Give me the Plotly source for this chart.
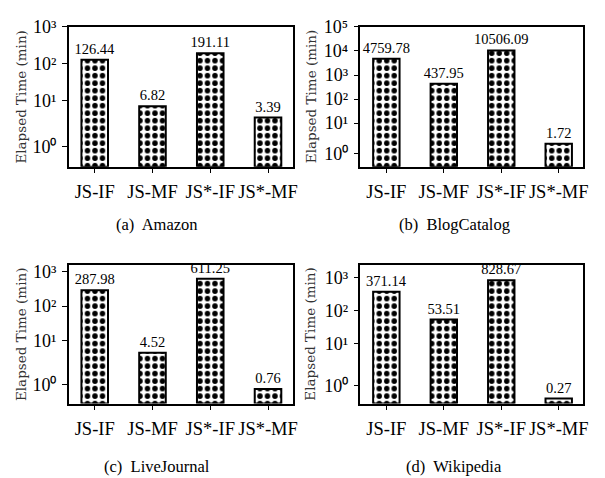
import numpy as np
import plotly.graph_objects as go

# ---------------- data ----------------
methods = ["JS-IF", "JS-MF", "JS*-IF", "JS*-MF"]
amazon = [126.44, 6.82, 191.11, 3.39]
blogcatalog = [4759.78, 437.95, 10506.09, 1.72]
livejournal = [287.98, 4.52, 611.25, 0.76]
wikipedia = [371.14, 53.51, 828.67, 0.27]
datasets = [amazon, blogcatalog, livejournal, wikipedia]
captions = ["(a)\u00a0 Amazon", "(b)\u00a0 BlogCatalog", "(c)\u00a0 LiveJournal", "(d)\u00a0 Wikipedia"]
tick_exponents = [[0, 1, 2, 3], [0, 1, 2, 3, 4, 5], [0, 1, 2, 3], [0, 1, 2, 3]]
y_tops = [1e3, 1e5, 1550, 2400]
y_title = "Elapsed Time (min)"
SUPERSCRIPTS = {0: "\u2070", 1: "\u00b9", 2: "\u00b2", 3: "\u00b3", 4: "\u2074", 5: "\u2075"}


# symmetric-log scale (linear below the threshold, log above), as in the original
def symlog(v, linthresh=2.0, linscale=1.0):
    v = np.asarray(v, dtype=float)
    adj = linscale / (1.0 - 1.0 / 10.0)
    a = np.abs(v)
    logpart = np.sign(v) * linthresh * (adj + np.log10(np.maximum(a, 1e-300) / linthresh))
    return np.where(a <= linthresh, v * adj, logpart)


W, H = 605, 478
col_x = [(69.3 / W, 295.0 / W), (363.5 / W, 588.0 / W)]
row_y = [(1 - 160.0 / H, 1 - 17.3 / H), (1 - 402.0 / H, 1 - 260.3 / H)]
ytitle_x = [21 / W, 313 / W]
caption_x = [158 / W, 458 / W]
caption_y = [1 - 219 / H, 1 - 466 / H]

SERIF = "Liberation Serif, Times New Roman, serif"

fig = go.Figure()
layout = dict(
    width=W, height=H,
    margin=dict(l=0, r=0, t=0, b=0),
    paper_bgcolor="white", plot_bgcolor="white",
    showlegend=False,
    annotations=[],
)

for i, vals in enumerate(datasets):
    r, c = divmod(i, 2)
    k = "" if i == 0 else str(i + 1)
    fig.add_trace(go.Bar(
        x=methods,
        y=symlog(vals),
        text=[f"{v:.2f}" for v in vals],
        textposition="outside",
        constraintext="none",
        cliponaxis=False,
        textfont=dict(family=SERIF, size=14.5, color="black"),
        width=0.46,
        marker=dict(
            color="white",
            line=dict(color="black", width=2),
            pattern=dict(shape=".", fgcolor="black", bgcolor="white",
                         size=7.5, solidity=0.42, fgopacity=1),
        ),
        xaxis="x" + k, yaxis="y" + k,
        hoverinfo="skip",
    ))
    exps = tick_exponents[i]
    layout["xaxis" + k] = dict(
        domain=list(col_x[c]), anchor="y" + k,
        type="category", range=[-0.45, 3.425],
        showline=True, linecolor="black", linewidth=1.5, mirror=True,
        ticks="outside", ticklen=5, tickwidth=1.2, tickcolor="black",
        showgrid=False, zeroline=False,
        tickfont=dict(family=SERIF, size=18.5, color="black"),
        ticklabelstandoff=2,
    )
    layout["yaxis" + k] = dict(
        domain=list(row_y[r]), anchor="x" + k,
        range=[0, float(symlog(y_tops[i]))],
        tickmode="array",
        tickvals=[float(t) for t in symlog([10.0 ** e for e in exps])],
        ticktext=["10" + SUPERSCRIPTS[e] for e in exps],
        showline=True, linecolor="black", linewidth=1.5, mirror=True,
        ticks="outside", ticklen=5, tickwidth=1.2, tickcolor="black",
        showgrid=False, zeroline=False,
        tickfont=dict(family=SERIF, size=18, color="black"),
        ticklabelstandoff=2,
    )
    layout["annotations"].append(dict(
        text=y_title, textangle=-90, showarrow=False,
        xref="paper", yref="paper",
        x=ytitle_x[c], y=(row_y[r][0] + row_y[r][1]) / 2,
        xanchor="center", yanchor="middle",
        font=dict(family="DejaVu Serif", size=13.5, color="#333"),
    ))
    layout["annotations"].append(dict(
        text=captions[i], showarrow=False,
        xref="paper", yref="paper",
        x=caption_x[c], y=caption_y[r],
        xanchor="center", yanchor="middle",
        font=dict(family=SERIF, size=16.5, color="black"),
    ))

fig.update_layout(**layout)
fig.write_html("out.html")
